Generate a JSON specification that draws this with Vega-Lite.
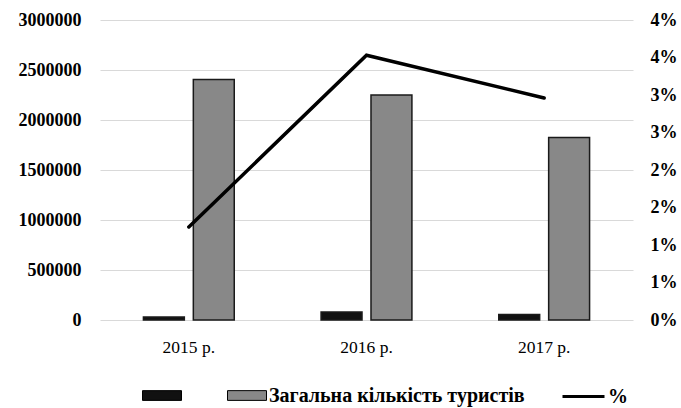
{
  "$schema": "https://vega.github.io/schema/vega-lite/v6.json",
  "width": 533,
  "height": 300,
  "autosize": {"type": "none"},
  "padding": {"left": 100, "top": 20, "right": 48, "bottom": 88},
  "background": "white",
  "config": {"view": {"stroke": null}, "font": "Liberation Serif"},
  "data": {
    "values": [
      {"year": "2015 р.", "series": "s1", "value": 30000},
      {"year": "2016 р.", "series": "s1", "value": 80000},
      {"year": "2017 р.", "series": "s1", "value": 55000},
      {"year": "2015 р.", "series": "Загальна кількість туристів", "value": 2405000},
      {"year": "2016 р.", "series": "Загальна кількість туристів", "value": 2250000},
      {"year": "2017 р.", "series": "Загальна кількість туристів", "value": 1825000},
      {"year": "2015 р.", "series": "%", "value": 0.0124},
      {"year": "2016 р.", "series": "%", "value": 0.0353},
      {"year": "2017 р.", "series": "%", "value": 0.0296}
    ]
  },
  "layer": [
    {
      "transform": [{"filter": "datum.series !== '%'"}],
      "mark": {"type": "bar", "stroke": "#1a1a1a", "strokeWidth": 1.5},
      "encoding": {
        "x": {
          "field": "year", "type": "nominal",
          "scale": {"paddingInner": 0, "paddingOuter": 0},
          "axis": {"title": null, "ticks": false, "domain": false, "labelAngle": 0, "labelFont": "Liberation Serif", "labelFontSize": 17.5, "labelFontWeight": "normal", "labelColor": "#000", "labelPadding": 18}
        },
        "xOffset": {
          "field": "series", "type": "nominal",
          "sort": ["s1", "Загальна кількість туристів"],
          "scale": {"paddingInner": 0.18, "paddingOuter": 0.87}
        },
        "y": {
          "field": "value", "type": "quantitative",
          "scale": {"domain": [0, 3000000], "nice": false},
          "axis": {"title": null, "values": [0, 500000, 1000000, 1500000, 2000000, 2500000, 3000000], "format": "d", "ticks": false, "domain": false, "grid": true, "gridColor": "#d9d9d9", "gridWidth": 1, "labelFont": "Liberation Serif", "labelFontSize": 18, "labelFontWeight": "bold", "labelColor": "#000", "labelPadding": 19}
        },
        "fill": {
          "field": "series", "type": "nominal",
          "scale": {"domain": ["s1", "Загальна кількість туристів"], "range": ["#111111", "#888888"]},
          "legend": {
            "orient": "none", "legendX": 42, "legendY": 355.5, "direction": "horizontal",
            "title": null, "labelFont": "Liberation Serif", "labelFontSize": 20, "labelFontWeight": "bold", "labelColor": "#000", "labelLimit": 400,
            "symbolType": "M-1,-0.25H1V0.25H-1Z", "symbolSize": 1521, "symbolStrokeColor": "#000", "symbolStrokeWidth": 1, "symbolOpacity": 1,
            "labelOffset": 2, "columnPadding": 41,
            "labelExpr": "datum.label === 's1' ? '' : datum.label"
          }
        }
      }
    },
    {
      "transform": [{"filter": "datum.series === '%'"}],
      "mark": {"type": "line", "strokeWidth": 3.5, "strokeCap": "round"},
      "encoding": {
        "x": {"field": "year", "type": "nominal"},
        "y": {
          "field": "value", "type": "quantitative",
          "scale": {"domain": [0, 0.04], "nice": false},
          "axis": {"orient": "right", "title": null, "values": [0, 0.005, 0.01, 0.015, 0.02, 0.025, 0.03, 0.035, 0.04], "format": ".0%", "ticks": false, "domain": false, "grid": false, "labelFont": "Liberation Serif", "labelFontSize": 18, "labelFontWeight": "bold", "labelColor": "#000", "labelPadding": 17}
        },
        "stroke": {
          "field": "series", "type": "nominal",
          "scale": {"domain": ["%"], "range": ["#000000"]},
          "legend": {
            "orient": "none", "legendX": 461, "legendY": 354, "direction": "horizontal",
            "title": null, "labelFont": "Liberation Serif", "labelFontSize": 20, "labelFontWeight": "bold", "labelColor": "#000",
            "symbolType": "stroke", "symbolSize": 1764, "symbolStrokeWidth": 3, "labelOffset": 2
          }
        }
      }
    }
  ],
  "resolve": {"scale": {"y": "independent"}}
}
